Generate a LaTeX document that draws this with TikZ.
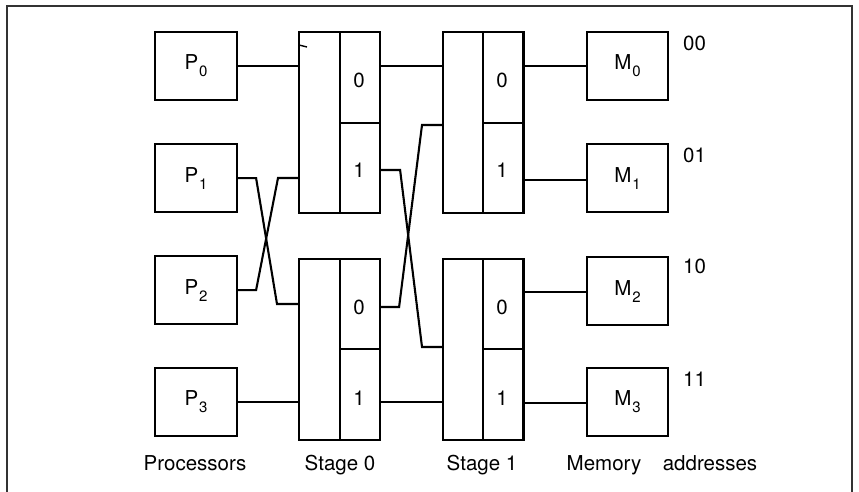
\documentclass[tikz,border=0pt]{standalone}
\usepackage{fontspec}
\setmainfont{TeX Gyre Heros}
\newcommand{\subd}[1]{\kern1pt\raisebox{-7pt}{\fontsize{15}{15}\selectfont #1}}
\begin{document}
\begin{tikzpicture}[x=1pt,y=-1pt,
  every node/.style={font=\fontsize{20.5}{24}\selectfont},
  pbox/.style={draw, line width=2.1pt, minimum width=82pt, minimum height=68pt, inner sep=0pt, anchor=north west},
  stagebox/.style={draw, line width=2.1pt, minimum width=81pt, minimum height=181pt, inner sep=0pt, anchor=north west},
  cellbox/.style={draw, line width=2.1pt, minimum width=40pt, inner sep=0pt, anchor=north west},
  digit/.style={inner sep=0pt},
  wire/.style={line width=2.1pt, line join=miter},
  lbl/.style={inner sep=0pt, anchor=base}
]
\useasboundingbox (0,0) rectangle (859,491);
% frame
\draw[line width=1.4pt, black!80] (7,495) -- (7,6) -- (852,6) -- (852,495);

% processors
\node[pbox] (P0) at (154,31) {P\subd{0}};
\node[pbox] (P1) at (154,143) {P\subd{1}};
\node[pbox] (P2) at (154,255) {P\subd{2}};
\node[pbox] (P3) at (154,367) {P\subd{3}};

% memories
\node[pbox, minimum width=81pt] (M0) at (586,31) {M\subd{0}};
\node[pbox, minimum width=81pt] (M1) at (586,143) {M\subd{1}};
\node[pbox, minimum width=81pt] (M2) at (586,256) {M\subd{2}};
\node[pbox, minimum width=81pt] (M3) at (586,367) {M\subd{3}};

% stage 0
\node[stagebox] (S0U) at (298,31) {};
\node[cellbox, minimum height=91pt] (S0U0) at (339,31) {};
\node[cellbox, minimum height=90pt] (S0U1) at (339,122) {};
\node[stagebox] (S0L) at (298,258) {};
\node[cellbox, minimum height=90pt] (S0L0) at (339,258) {};
\node[cellbox, minimum height=91pt] (S0L1) at (339,348) {};
% stage 1
\node[stagebox] (S1U) at (442,31) {};
\node[cellbox, minimum height=91pt] (S1U0) at (482,31) {};
\node[cellbox, minimum height=90pt] (S1U1) at (482,122) {};
\node[stagebox] (S1L) at (442,258) {};
\node[cellbox, minimum height=90pt] (S1L0) at (482,258) {};
\node[cellbox, minimum height=91pt] (S1L1) at (482,348) {};

% cell digits
\node[digit] (d00) at (359,80) {0};
\node[digit] (d01) at (359,170) {1};
\node[digit] (d02) at (359,307) {0};
\node[digit] (d03) at (359,398) {1};
\node[digit] (d10) at (502,80) {0};
\node[digit] (d11) at (502,170) {1};
\node[digit] (d12) at (502,307) {0};
\node[digit] (d13) at (502,398) {1};

% small stroke
\draw[line width=1.4pt] (299,45) -- (307,47);

% bend coordinates
\coordinate (b1) at (277,304);
\coordinate (b2) at (278,178);
\coordinate (b3) at (422,347);
\coordinate (b4) at (422,125);

% processor to stage 0
\draw[wire] (P0.east) -- (P0.east -| S0U.west);
\draw[wire] (P1.east) -- ++(18,0) -- (b1) -- (b1 -| S0L.west);
\draw[wire] (P2.east) -- ++(18,0) -- (b2) -- (b2 -| S0U.west);
\draw[wire] (P3.east) -- (P3.east -| S0L.west);

% stage 0 to stage 1
\draw[wire] (S0U0.east |- P0.east) -- (S1U.west |- P0.east);
\draw[wire] (S0U1.east |- d01) -- ++(19,0) -- (b3) -- (b3 -| S1L.west);
\draw[wire] (S0L0.east |- d02) -- ++(18,0) -- (b4) -- (b4 -| S1U.west);
\draw[wire] (S0L1.east |- P3.east) -- (S1L.west |- P3.east);

% stage 1 to memories
\draw[wire] (S1U0.east |- M0.west) -- (M0.west);
\draw[wire] (S1U1.east |- 0,180) -- (M1.west |- 0,180);
\draw[wire] (S1L0.east |- 0,292) -- (M2.west |- 0,292);
\draw[wire] (S1L1.east |- 0,403) -- (M3.west |- 0,403);

% addresses
\node[lbl, anchor=base west] (a00) at (683,50) {00};
\node[lbl, anchor=base west] (a01) at (683,162) {01};
\node[lbl, anchor=base west] (a10) at (683,273) {10};
\node[lbl, anchor=base west] (a11) at (683,386) {11};

% bottom labels
\node[lbl] (lp) at (195,470) {Processors};
\node[lbl] (ls0) at (340,470) {Stage 0};
\node[lbl] (ls1) at (482,470) {Stage 1};
\node[lbl] (lm) at (604,470) {Memory};
\node[lbl] (la) at (710,470) {addresses};
\end{tikzpicture}
\end{document}
